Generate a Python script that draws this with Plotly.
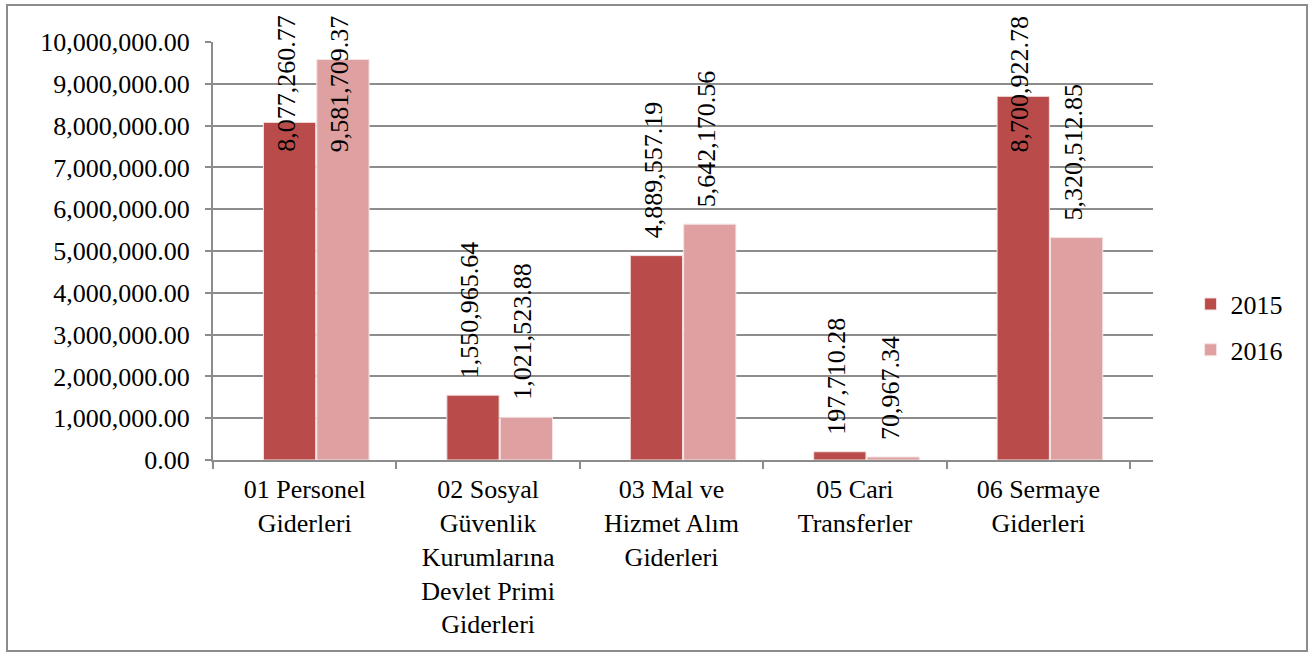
import plotly.graph_objects as go

categories = ["01 Personel<br>Giderleri",
              "02 Sosyal<br>Güvenlik<br>Kurumlarına<br>Devlet Primi<br>Giderleri",
              "03 Mal ve<br>Hizmet Alım<br>Giderleri",
              "05 Cari<br>Transferler",
              "06 Sermaye<br>Giderleri"]
values_2015 = [8077260.77, 1550965.64, 4889557.19, 197710.28, 8700922.78]
values_2016 = [9581709.37, 1021523.88, 5642170.56, 70967.34, 5320512.85]
series_names = ["2015", "2016"]
y_ticks = [i * 1000000 for i in range(11)]

FONT = "Liberation Serif, Times New Roman, DejaVu Serif, serif"
FS = 26
GRID = "#8c8c8c"
colors = ["#b94c4a", "#dea0a0"]
offsets = [-0.225, 0.066]
BW = 0.285
LABEL_CAP = 6960000

fig = go.Figure()
for name, vals, col, off in zip(series_names, [values_2015, values_2016], colors, offsets):
    fig.add_trace(go.Bar(
        x=categories, y=vals, name=name, legendgroup=name,
        marker=dict(color=col, line=dict(color="#f4e4e4", width=1)),
        offset=off, width=BW,
    ))

annotations = []
for vals, off in zip([values_2015, values_2016], offsets):
    for i, v in enumerate(vals):
        annotations.append(dict(
            x=i + off + BW / 2 - 0.018, y=min(v, LABEL_CAP),
            xref="x", yref="y",
            text=f"{v:,.2f}", textangle=-90,
            showarrow=False, xanchor="center", yanchor="bottom",
            yshift=15,
            font=dict(family=FONT, size=FS, color="black"),
        ))

fig.update_layout(
    width=1316, height=653,
    margin=dict(l=213, r=163, t=42, b=193),
    paper_bgcolor="white", plot_bgcolor="white",
    font=dict(family=FONT, size=FS, color="black"),
    barmode="group",
    showlegend=True,
    legend=dict(x=1.04, y=0.318, xanchor="left", yanchor="middle",
                font=dict(family=FONT, size=FS, color="black"),
                bgcolor="rgba(0,0,0,0)", tracegroupgap=9),
    annotations=annotations,
    shapes=[dict(type="rect", xref="paper", yref="paper",
                 x0=(7 - 213) / 940, x1=(1307 - 213) / 940,
                 y0=(460 - 651) / 418, y1=(460 - 5) / 418,
                 line=dict(color=GRID, width=2), fillcolor="rgba(0,0,0,0)",
                 layer="below")],
)
fig.update_xaxes(
    type="category", range=[-0.5, 4.625],
    showline=True, linecolor=GRID, linewidth=2,
    ticks="outside", ticklen=7, tickcolor=GRID, tickwidth=2,
    tickson="boundaries", showgrid=False, ticklabelstandoff=5,
    tickfont=dict(family=FONT, size=FS, color="black"),
)
fig.update_yaxes(
    range=[0, 10000000], tickvals=y_ticks, tickformat=",.2f",
    showline=True, linecolor=GRID, linewidth=2,
    ticks="outside", ticklen=6, tickcolor=GRID, tickwidth=2,
    showgrid=True, gridcolor=GRID, gridwidth=2,
    zeroline=False, ticklabelstandoff=10,
    tickfont=dict(family=FONT, size=FS, color="black"),
)
fig.write_html("out.html", config={"displayModeBar": False},
               post_script="document.body.style.margin='0';document.body.style.padding='0';")
